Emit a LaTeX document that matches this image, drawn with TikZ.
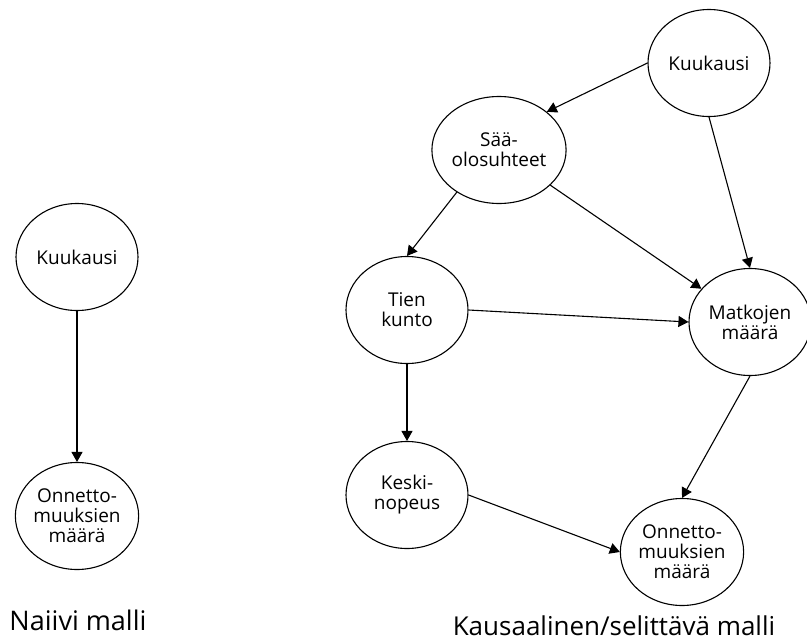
\documentclass[tikz,border=0pt]{standalone}
\usepackage{fontspec}
\setmainfont{Open Sans}
\usetikzlibrary{
	arrows.meta,
	shapes.geometric,
}

\begin{document}
\begin{tikzpicture}[x=1pt,y=1pt]
		\tikzstyle{var}=[draw=black, ellipse, line width=1.1pt, minimum width=122pt, minimum height=107pt, inner sep=0pt, align=center, font=\fontsize{19}{20}\selectfont]
		\tikzstyle{dep}=[black, line width=1.1pt, -{Triangle[length=10pt,width=11pt]}]
		\tikzstyle{title}=[inner sep=0pt, anchor=base]
		\useasboundingbox (0,0) rectangle (807,-643);
		% naive model
		\node [var] (kk1) at (77,-257) {Kuukausi};
		\node [var] (om1) at (77,-516) {Onnetto-\\muuksien\\määrä};
		\draw [dep] (kk1.south) -- (om1.north);
		\node [title, font=\fontsize{27}{30}\selectfont] (naiivi) at (78,-630) {Naiivi malli};
		% causal model
		\node [var] (kk) at (709,-63) {Kuukausi};
		\node [var] (saa) at (499,-150) {Sää-\\olosuhteet};
		\node [var] (tk) at (407,-310) {Tien\\kunto};
		\node [var] (mat) at (750,-322) {Matkojen\\määrä};
		\node [var] (kn) at (407,-495) {Keski-\\nopeus};
		\node [var] (om) at (682,-552) {Onnetto-\\muuksien\\määrä};
		\draw [dep] (kk.west) -- (saa.north east);
		\draw [dep] (kk.south) -- (mat.north);
		\draw [dep] (saa.225) -- (tk.north);
		\draw [dep] (saa) -- (mat);
		\draw [dep] (tk.east) -- (mat.west);
		\draw [dep] (tk.south) -- (kn.north);
		\draw [dep] (mat.south) -- (om.north);
		\draw [dep] (kn.east) -- (om.west);
		\node [title, font=\fontsize{26}{30}\selectfont] (kausaali) at (614,-635) {Kausaalinen/selittävä malli};
		\end{tikzpicture}
\end{document}
